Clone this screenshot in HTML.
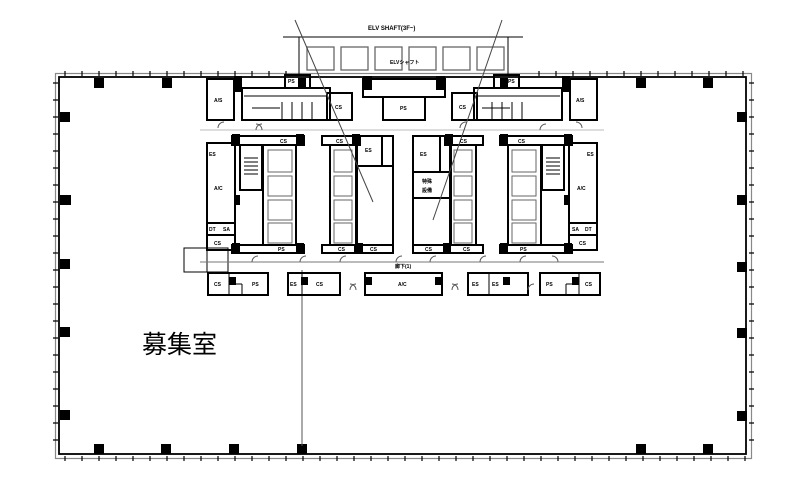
<!DOCTYPE html>
<html><head><meta charset="utf-8"><style>
html,body{margin:0;padding:0;background:#fff;width:787px;height:502px;overflow:hidden}
svg{display:block}
text{font-family:"Liberation Sans",sans-serif;font-weight:bold;font-size:5px;fill:#000}
</style></head><body>
<svg width="787" height="502" viewBox="0 0 787 502" xmlns="http://www.w3.org/2000/svg">
<rect x="55.5" y="73.5" width="696" height="385" fill="none" stroke="#888" stroke-width="1.2"/>
<rect x="59" y="77" width="687" height="377" fill="none" stroke="#000" stroke-width="1.8"/>
<g stroke="#000" stroke-width="1.2">
<path d="M65 71v5M82 71v5M99 71v5M116 71v5M133 71v5M150 71v5M167 71v5M184 71v5M201 71v5M218 71v5M235 71v5M252 71v5M269 71v5M286 71v5M539 71v5M556 71v5M573 71v5M590 71v5M607 71v5M624 71v5M641 71v5M658 71v5M675 71v5M692 71v5M709 71v5M726 71v5M743 71v5"/>
<path d="M65 456v5M82 456v5M99 456v5M116 456v5M133 456v5M150 456v5M167 456v5M184 456v5M201 456v5M218 456v5M235 456v5M252 456v5M269 456v5M286 456v5M303 456v5M320 456v5M337 456v5M354 456v5M371 456v5M388 456v5M405 456v5M422 456v5M439 456v5M456 456v5M473 456v5M490 456v5M507 456v5M524 456v5M541 456v5M558 456v5M575 456v5M592 456v5M609 456v5M626 456v5M643 456v5M660 456v5M677 456v5M694 456v5M711 456v5M728 456v5M745 456v5"/>
<path d="M53 83h5M53 100h5M53 117h5M53 134h5M53 151h5M53 168h5M53 185h5M53 202h5M53 219h5M53 236h5M53 253h5M53 270h5M53 287h5M53 304h5M53 321h5M53 338h5M53 355h5M53 372h5M53 389h5M53 406h5M53 423h5M53 440h5"/>
<path d="M749 83h5M749 100h5M749 117h5M749 134h5M749 151h5M749 168h5M749 185h5M749 202h5M749 219h5M749 236h5M749 253h5M749 270h5M749 287h5M749 304h5M749 321h5M749 338h5M749 355h5M749 372h5M749 389h5M749 406h5M749 423h5M749 440h5"/>
</g>
<g fill="#000">
<rect x="94" y="78" width="10" height="10"/><rect x="162" y="78" width="10" height="10"/>
<rect x="636" y="78" width="10" height="10"/><rect x="703" y="78" width="10" height="10"/>
<rect x="94" y="444" width="10" height="10"/><rect x="161" y="444" width="10" height="10"/>
<rect x="229" y="444" width="10" height="10"/><rect x="297" y="444" width="10" height="10"/>
<rect x="636" y="444" width="10" height="10"/><rect x="703" y="444" width="10" height="10"/>
<rect x="60" y="112" width="10" height="10"/><rect x="60" y="195" width="11" height="10"/><rect x="60" y="259" width="10" height="10"/>
<rect x="60" y="327" width="10" height="10"/><rect x="60" y="410" width="10" height="10"/>
<rect x="737" y="112" width="10" height="10"/><rect x="737" y="195" width="10" height="10"/>
<rect x="737" y="262" width="10" height="10"/><rect x="737" y="328" width="10" height="10"/>
<rect x="737" y="411" width="10" height="10"/>
</g>
<line x1="302" y1="270" x2="302" y2="446" stroke="#555" stroke-width="1"/>
<g fill="none" stroke="#000">
<line x1="283" y1="37" x2="523" y2="37" stroke-width="1"/>
<line x1="299" y1="37" x2="299" y2="74" stroke-width="1"/>
<line x1="508" y1="37" x2="508" y2="74" stroke-width="1"/>
<g stroke="#666" stroke-width="1.3">
<rect x="307" y="47" width="27" height="23"/><rect x="341" y="47" width="27" height="23"/><rect x="375" y="47" width="27" height="23"/><rect x="409" y="47" width="27" height="23"/><rect x="443" y="47" width="27" height="23"/><rect x="477" y="47" width="27" height="23"/>
</g>
</g>
<text x="390" y="64">ELVシャフト</text>
<text x="368" y="30" style="font-size:6px">ELV SHAFT(3F~)</text>
<g fill="none" stroke="#000" stroke-width="2">
<rect x="207" y="79" width="27" height="41"/>
<rect x="242" y="88" width="88" height="32"/>
<rect x="285" y="75" width="25" height="13"/>
<rect x="327" y="93" width="25" height="27"/>
<rect x="207" y="143" width="28" height="80"/>
<rect x="207" y="223" width="28" height="12"/>
<rect x="207" y="235" width="28" height="15"/>
<rect x="240" y="145" width="22" height="45"/>
<rect x="263" y="145" width="33" height="100"/>
<rect x="232" y="136" width="72" height="9"/>
<rect x="232" y="245" width="72" height="8"/>
<rect x="363" y="79" width="82" height="18"/>
<rect x="383" y="97" width="42" height="23"/>
<rect x="322" y="136" width="38" height="9"/>
<rect x="330" y="145" width="26" height="100"/>
<rect x="322" y="245" width="33" height="8"/>
<rect x="357" y="136" width="25" height="30"/>
<rect x="382" y="136" width="11" height="30"/>
<rect x="357" y="166" width="36" height="79"/>
<rect x="355" y="245" width="38" height="8"/>
<rect x="413" y="136" width="27" height="36"/>
<rect x="440" y="136" width="11" height="36"/>
<rect x="413" y="172" width="38" height="26"/>
<rect x="413" y="198" width="38" height="47"/>
<rect x="413" y="245" width="37" height="8"/>
<rect x="445" y="136" width="38" height="9"/>
<rect x="450" y="145" width="26" height="100"/>
<rect x="450" y="245" width="33" height="8"/>
<rect x="570" y="79" width="27" height="41"/>
<rect x="474" y="88" width="88" height="32"/>
<rect x="494" y="75" width="25" height="13"/>
<rect x="452" y="93" width="25" height="27"/>
<rect x="569" y="143" width="28" height="80"/>
<rect x="569" y="223" width="28" height="12"/>
<rect x="569" y="235" width="28" height="15"/>
<rect x="542" y="145" width="22" height="45"/>
<rect x="508" y="145" width="33" height="100"/>
<rect x="500" y="136" width="72" height="9"/>
<rect x="500" y="245" width="72" height="8"/>
<rect x="208" y="273" width="60" height="22"/>
<rect x="288" y="273" width="52" height="22"/>
<rect x="365" y="273" width="77" height="22"/>
<rect x="468" y="273" width="60" height="22"/>
<rect x="540" y="273" width="60" height="22"/>
</g>
<g fill="none" stroke="#000" stroke-width="1">
<line x1="229" y1="273" x2="229" y2="295"/><line x1="242" y1="284" x2="242" y2="295"/><line x1="230" y1="284" x2="242" y2="284"/>
<line x1="302" y1="273" x2="302" y2="295"/>
<line x1="489" y1="273" x2="489" y2="295"/>
<line x1="579" y1="273" x2="579" y2="295"/><line x1="566" y1="284" x2="566" y2="295"/><line x1="566" y1="284" x2="579" y2="284"/>
<rect x="184" y="248" width="44" height="24"/><line x1="207" y1="248" x2="207" y2="272"/>
<line x1="200" y1="262" x2="604" y2="262" stroke="#777"/>
<line x1="200" y1="130" x2="604" y2="130" stroke="#bbb"/>
<path d="M282 102v18M292 102v18M302 102v18M312 102v18M252 108h28M482 108h28M492 102v18M502 102v18M512 102v18M522 102v18"/>
<path d="M244 96h84M476 96h84"/>
<rect x="268" y="150" width="24" height="22" stroke="#666"/><rect x="268" y="176" width="24" height="20" stroke="#666"/><rect x="268" y="200" width="24" height="20" stroke="#666"/><rect x="268" y="223" width="24" height="20" stroke="#666"/>
<rect x="334" y="150" width="18" height="22" stroke="#666"/><rect x="334" y="176" width="18" height="20" stroke="#666"/><rect x="334" y="200" width="18" height="20" stroke="#666"/><rect x="334" y="223" width="18" height="20" stroke="#666"/>
<rect x="454" y="150" width="18" height="22" stroke="#666"/><rect x="454" y="176" width="18" height="20" stroke="#666"/><rect x="454" y="200" width="18" height="20" stroke="#666"/><rect x="454" y="223" width="18" height="20" stroke="#666"/>
<rect x="512" y="150" width="24" height="22" stroke="#666"/><rect x="512" y="176" width="24" height="20" stroke="#666"/><rect x="512" y="200" width="24" height="20" stroke="#666"/><rect x="512" y="223" width="24" height="20" stroke="#666"/>
<path d="M244 158h14M244 162h14M244 166h14M244 170h14M244 174h14M546 158h14M546 162h14M546 166h14M546 170h14M546 174h14"/>
<line x1="295" y1="20" x2="373" y2="202" stroke="#444"/>
<line x1="502" y1="20" x2="433" y2="220" stroke="#444"/>
<path d="M218 128a6 6 0 0 1 6 -6M256 130a6 6 0 0 1 6-6M262 130a6 6 0 0 0 -6-6M460 128a6 6 0 0 1 6-6M540 130a6 6 0 0 1 6-6M582 128a6 6 0 0 0-6-6M300 262a6 6 0 0 1 6-6M340 262a6 6 0 0 1 6-6M396 262a6 6 0 0 1 6-6M430 262a6 6 0 0 1 6-6M480 262a6 6 0 0 1 6-6M520 262a6 6 0 0 1 6-6M350 290a6 6 0 0 1 6-6M356 290a6 6 0 0 0-6-6M452 290a6 6 0 0 1 6-6M458 290a6 6 0 0 0-6-6M528 290a6 6 0 0 1 6-6M252 262a6 6 0 0 1 6-6M558 262a6 6 0 0 0-6-6" stroke="#555"/>
</g>
<g fill="#000">
<rect x="234" y="76" width="8" height="16"/><rect x="363" y="76" width="9" height="14"/><rect x="436" y="76" width="9" height="14"/><rect x="562" y="76" width="8" height="16"/>
<rect x="298" y="78" width="8" height="9"/><rect x="500" y="78" width="8" height="9"/>
<rect x="232" y="134" width="8" height="11"/><rect x="296" y="134" width="8" height="11"/><rect x="352" y="134" width="8" height="11"/><rect x="445" y="134" width="8" height="11"/><rect x="500" y="134" width="8" height="11"/><rect x="564" y="134" width="8" height="11"/>
<rect x="232" y="243" width="8" height="11"/><rect x="296" y="243" width="8" height="11"/><rect x="355" y="243" width="8" height="11"/><rect x="443" y="243" width="8" height="11"/><rect x="500" y="243" width="8" height="11"/><rect x="564" y="243" width="8" height="11"/>
<rect x="234" y="195" width="6" height="10"/><rect x="564" y="195" width="6" height="10"/>
<rect x="229" y="277" width="7" height="8"/><rect x="301" y="277" width="7" height="8"/><rect x="365" y="277" width="7" height="8"/><rect x="435" y="277" width="7" height="8"/><rect x="503" y="277" width="7" height="8"/><rect x="572" y="277" width="7" height="8"/>
</g>
<g>
<text x="214" y="102">A/S</text><text x="576" y="102">A/S</text>
<text x="214" y="190">A/C</text><text x="577" y="190">A/C</text>
<text x="335" y="109">CS</text><text x="459" y="109">CS</text>
<text x="400" y="110">PS</text><text x="288" y="83">PS</text><text x="508" y="83">PS</text>
<text x="280" y="143">CS</text><text x="336" y="143">CS</text><text x="365" y="152">ES</text><text x="420" y="156">ES</text><text x="460" y="143">CS</text><text x="518" y="143">CS</text>
<text x="278" y="251">PS</text><text x="338" y="251">CS</text><text x="370" y="251">CS</text><text x="425" y="251">CS</text><text x="463" y="251">CS</text><text x="520" y="251">PS</text>
<text x="422" y="183">特殊</text><text x="422" y="192">設備</text>
<text x="214" y="286">CS</text><text x="252" y="286">PS</text><text x="290" y="286">ES</text><text x="316" y="286">CS</text>
<text x="398" y="286">A/C</text><text x="472" y="286">ES</text><text x="492" y="286">ES</text><text x="546" y="286">PS</text><text x="585" y="286">CS</text>
<text x="209" y="231">DT</text><text x="223" y="231">SA</text><text x="214" y="245">CS</text>
<text x="572" y="231">SA</text><text x="585" y="231">DT</text><text x="579" y="245">CS</text>
<text x="209" y="156">ES</text><text x="587" y="156">ES</text>
<text x="395" y="268">廊下(1)</text>
</g>
<text x="142" y="353" style="font-family:'Liberation Sans','Noto Sans CJK JP',sans-serif;font-weight:normal;font-size:25px">募集室</text>
</svg>
</body></html>
